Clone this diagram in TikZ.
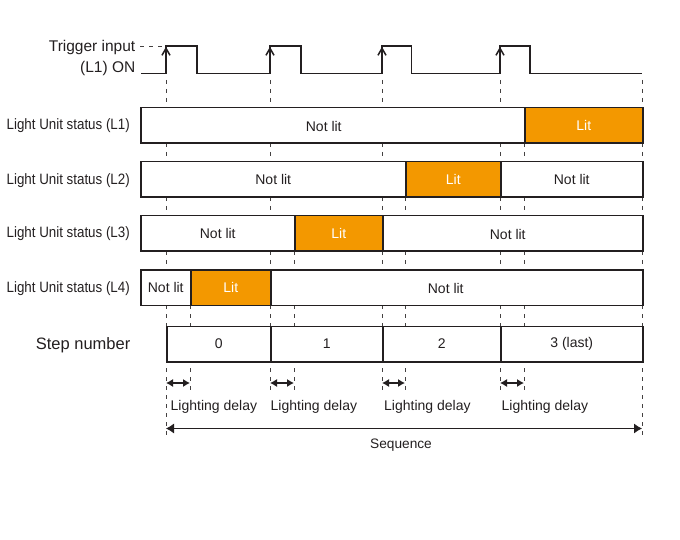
\documentclass[tikz,border=0pt]{standalone}
\usepackage{graphicx}
\usepackage{fontspec}
\setmainfont{Liberation Sans}
\usetikzlibrary{arrows.meta}
\definecolor{litorange}{RGB}{243,152,0}
\definecolor{ink}{RGB}{35,31,32}
\begin{document}
\begin{tikzpicture}[x=1pt,y=-1pt,
  seg/.style={draw=ink, line width=1.5pt, fill=white, minimum height=35.5pt, inner sep=0pt, anchor=west, font=\fontsize{14}{16}\selectfont, text=ink},
  litseg/.style={seg, fill=litorange, text=white},
  segtext/.style={inner sep=0pt, font=\fontsize{14}{16}\selectfont, text=ink},
  rowlabel/.style={anchor=east, inner sep=0pt, font=\fontsize{15}{17}\selectfont, text=ink},
  biglabel/.style={anchor=east, inner sep=0pt, text=ink},
  guide/.style={draw=ink!85, line width=0.8pt, dash pattern=on 4pt off 5pt},
  wave/.style={draw=ink, line width=1.5pt},
  delay/.style={draw=ink, line width=1.1pt, {Latex[length=7pt,width=8pt]}-{Latex[length=7pt,width=8pt]}},
  seq/.style={draw=ink, line width=0.9pt, {Latex[length=8pt,width=10pt]}-{Latex[length=8pt,width=10pt]}},
  note/.style={inner sep=0pt, font=\fontsize{14}{16}\selectfont, text=ink},
]
\useasboundingbox (0,0) rectangle (680,540);

% ---- guide coordinates ----
\coordinate (g166t) at (166,80);  \coordinate (g166b) at (166,437);
\coordinate (g270t) at (270,80);  \coordinate (g270b) at (270,390);
\coordinate (g382t) at (382,80);  \coordinate (g382b) at (382,390);
\coordinate (g500t) at (500,80);  \coordinate (g500b) at (500,390);
\coordinate (g642t) at (642,80);  \coordinate (g642b) at (642,437);
\coordinate (g524t) at (524,143); \coordinate (g524b) at (524,390);
\coordinate (g405t) at (405,197); \coordinate (g405b) at (405,390);
\coordinate (g294t) at (294,251); \coordinate (g294b) at (294,390);
\coordinate (g190t) at (190,305); \coordinate (g190b) at (190,390);

\foreach \g in {166,270,382,500,642,524,405,294,190}
  \draw[guide] (g\g t) -- (g\g b);

% ---- trigger waveform ----
\coordinate (trdash) at (140,46);
\coordinate (w0) at (141,73.5);
\draw[guide] (trdash) -- (164,46);
\draw[wave, line join=miter] (w0) -| (166,46) -| (197,73.5) -| (270,46) -| (301,73.5)
  -| (382,46) -| (411.5,73.5) -| (500,46) -| (530,73.5) -- (642,73.5);
\foreach \r in {166,270,382,500}
  \draw[wave, -{Straight Barb[length=7pt,width=8pt]}] (\r,73.5) -- (\r,46.8);

\node[biglabel, font=\fontsize{15.5}{18}\selectfont] (trig1) at (135.5,47) {Trigger input};
\node[biglabel, font=\fontsize{15.5}{18}\selectfont] (trig2) at (135.5,68) {(L1) ON};

% ---- rows ----
\node[rowlabel] (lab1) at (130,126) {\scalebox{0.89}[1]{Light Unit status (L1)}};
\node[seg, minimum width=384pt] (l1off) at (140,125.3) {};
\node[segtext] at ([xshift=-9pt,yshift=-0.7pt]l1off.center) {Not lit};
\node[litseg, minimum width=118pt] (l1on) at (524,125.3) {Lit};

\node[rowlabel] (lab2) at (130,180.2) {\scalebox{0.89}[1]{Light Unit status (L2)}};
\node[seg, minimum width=265pt] (l2off) at (140,179.5) {Not lit};
\node[litseg, minimum width=95pt] (l2on) at (405,179.5) {Lit};
\node[seg, minimum width=142pt] (l2off2) at (500,179.5) {Not lit};

\node[rowlabel] (lab3) at (130,234) {\scalebox{0.89}[1]{Light Unit status (L3)}};
\node[seg, minimum width=154pt] (l3off) at (140,233.3) {Not lit};
\node[litseg, minimum width=88pt] (l3on) at (294,233.3) {Lit};
\node[seg, minimum width=260pt] (l3off2) at (382,233.3) {};
\node[segtext] at ([xshift=-5pt,yshift=-0.7pt]l3off2.center) {Not lit};

\node[rowlabel] (lab4) at (130,288.2) {\scalebox{0.89}[1]{Light Unit status (L4)}};
\node[seg, minimum width=50pt] (l4off) at (140,287.5) {Not lit};
\node[litseg, minimum width=80pt] (l4on) at (190,287.5) {Lit};
\node[seg, minimum width=372pt] (l4off2) at (270,287.5) {};
\node[segtext] at ([xshift=-11pt,yshift=-0.7pt]l4off2.center) {Not lit};

% ---- step numbers ----
\node[biglabel, font=\fontsize{16.5}{19}\selectfont] (steplab) at (130.5,345) {Step number};
\node[seg, minimum width=104pt] (s0) at (166,344) {0};
\node[seg, minimum width=112pt] (s1) at (270,344) {1};
\node[seg, minimum width=118pt] (s2) at (382,344) {2};
\node[seg, minimum width=142pt] (s3) at (500,344) {3 (last)};

% ---- lighting delays ----
\coordinate (d1a) at (166,383); \coordinate (d1b) at (190,383);
\coordinate (d2a) at (270,383); \coordinate (d2b) at (294,383);
\coordinate (d3a) at (382,383); \coordinate (d3b) at (405,383);
\coordinate (d4a) at (500,383); \coordinate (d4b) at (524,383);
\draw[delay] (d1a) -- (d1b);
\draw[delay] (d2a) -- (d2b);
\draw[delay] (d3a) -- (d3b);
\draw[delay] (d4a) -- (d4b);
\node[note, anchor=west] (ld1) at (170.5,406.5) {Lighting delay};
\node[note, anchor=west] (ld2) at (270.5,406.5) {Lighting delay};
\node[note, anchor=west] (ld3) at (384,406.5) {Lighting delay};
\node[note, anchor=west] (ld4) at (501.5,406.5) {Lighting delay};

% ---- sequence ----
\coordinate (sqa) at (166,428.5); \coordinate (sqb) at (642,428.5);
\draw[seq] (sqa) -- (sqb);
\node[note, font=\fontsize{13.7}{16}\selectfont] (seqlab) at (401,445.5) {Sequence};
\end{tikzpicture}
\end{document}
